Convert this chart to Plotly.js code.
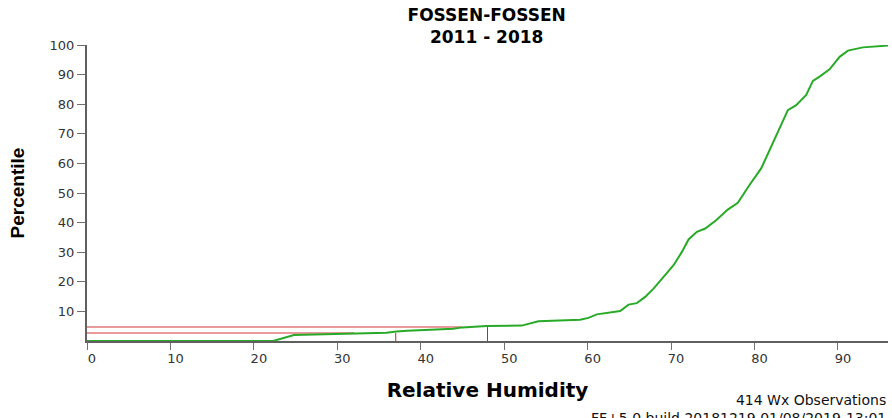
<!DOCTYPE html>
<html>
<head>
<meta charset="utf-8">
<script src="https://cdn.plot.ly/plotly-3.0.1.min.js"></script>
<style>html,body{margin:0;padding:0;background:#fff;}#chart{width:892px;height:418px;}</style>
</head>
<body>
<div id="chart"></div>
<script>
// Cumulative distribution of relative humidity (percentile vs RH %)
const rhValues = [0, 22.3, 24.8, 30.9, 35.9, 37.1, 38.4, 43.9, 45.0, 47.9, 52.1, 54.1, 56.3, 59.1, 60.1, 61.1, 63.9, 64.9, 65.9, 66.9, 67.9, 69.1, 70.3, 71.3, 72.1, 73.1, 74.1, 75.4, 76.8, 78.0, 78.6, 79.4, 80.8, 82.2, 83.2, 84.0, 85.0, 86.2, 87.0, 87.8, 89.0, 90.2, 91.2, 93.0, 96.0];
const percentiles = [0, 0, 2.0, 2.3, 2.75, 3.2, 3.5, 4.1, 4.6, 5.1, 5.2, 6.7, 6.9, 7.2, 7.8, 9.0, 10.1, 12.3, 12.8, 14.9, 17.7, 21.6, 25.6, 30.1, 34.3, 36.9, 38.0, 40.8, 44.4, 46.7, 49.3, 52.7, 58.3, 66.8, 72.9, 78.0, 79.7, 83.1, 87.9, 89.3, 91.8, 96.0, 98.1, 99.2, 99.8];

// Reference percentile markers
const refPercentiles = [4.7, 2.7];
const refLineEndRH = [45.0, 32.0];
const refMarkRH = [48.0, 37.0];

const xTicks = [0, 10, 20, 30, 40, 50, 60, 70, 80, 90];
const yTicks = [10, 20, 30, 40, 50, 60, 70, 80, 90, 100];

const titleLines = ["FOSSEN-FOSSEN", "2011 - 2018"];
const xTitle = "Relative Humidity";
const yTitle = "Percentile";
const footLines = ["414 Wx Observations", "FF+5.0 build 20181219 01/08/2019-13:01"];

const WIDE = "DejaVu Sans, Verdana, sans-serif";
const NARROW = "Liberation Sans, Arial, sans-serif";

const traces = [];
refPercentiles.forEach((p, i) => {
  traces.push({
    x: [0, refLineEndRH[i]], y: [p, p], mode: 'lines', type: 'scatter',
    line: {color: 'rgba(225,120,120,0.75)', width: 2}, hoverinfo: 'skip', showlegend: false
  });
  traces.push({
    x: [refMarkRH[i], refMarkRH[i]], y: [p, 0], mode: 'lines', type: 'scatter',
    line: {color: '#cc2222', width: 1}, hoverinfo: 'skip', showlegend: false
  });
});
traces.push({
  x: rhValues, y: percentiles, mode: 'lines', type: 'scatter',
  line: {color: '#28aa28', width: 2}, showlegend: false, cliponaxis: false
});

const plotTop = 45, plotBottom = 340.7, H = 418;
const ph = plotBottom - plotTop;
function paperY(py) { return (plotBottom - py) / ph; }

const layout = {
  width: 892, height: 418,
  margin: {l: 87, r: 4, t: plotTop, b: H - plotBottom},
  paper_bgcolor: '#fff', plot_bgcolor: '#fff',
  font: {family: WIDE, color: '#333'},
  title: {
    text: titleLines.join('<br>'), x: 0.5456, xanchor: 'center', xref: 'container',
    y: 1 - 21 / H, yref: 'container', yanchor: 'middle',
    font: {family: WIDE, size: 17, weight: 'bold', color: '#000'}
  },
  xaxis: {
    range: [0, 96], tickvals: xTicks, ticktext: xTicks.map(String),
    showgrid: false, zeroline: false, showline: true, linecolor: '#606060', linewidth: 2,
    ticks: 'outside', ticklen: 7, tickcolor: '#707070', tickwidth: 1,
    ticklabelshift: 5, ticklabelstandoff: -3,
    tickfont: {family: WIDE, size: 13, color: '#333'},
    title: {text: xTitle, standoff: 18, font: {family: WIDE, size: 20, weight: 'bold', color: '#000'}},
    fixedrange: true
  },
  yaxis: {
    range: [0, 100], tickvals: yTicks, ticktext: yTicks.map(String),
    showgrid: false, zeroline: false, showline: true, linecolor: '#606060', linewidth: 2,
    ticks: 'outside', ticklen: 8, tickcolor: '#707070', tickwidth: 1,
    tickfont: {family: WIDE, size: 13, color: '#333'},
    title: {text: yTitle, standoff: 20, font: {family: NARROW, size: 19, weight: 'bold', color: '#000'}},
    fixedrange: true
  },
  annotations: [
    {text: footLines.join('<br>'), xref: 'paper', yref: 'paper', x: 1, y: paperY(409), xanchor: 'right', yanchor: 'middle',
     align: 'right', showarrow: false, font: {family: WIDE, size: 14, color: '#111'}}
  ],
  showlegend: false
};

Plotly.newPlot('chart', traces, layout, {displayModeBar: false, staticPlot: true});
</script>
</body>
</html>
